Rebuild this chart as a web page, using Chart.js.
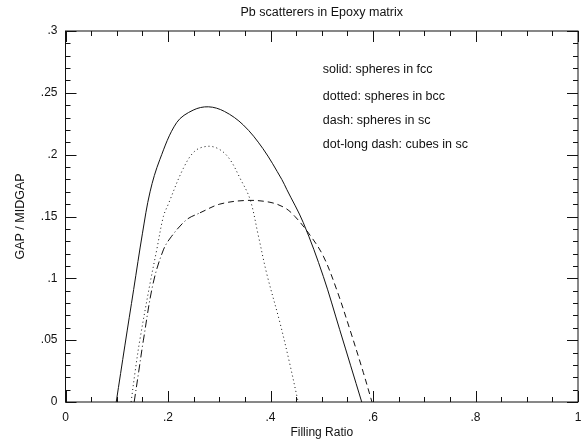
<!DOCTYPE html>
<html lang="en">
<head>
    <meta charset="UTF-8">
    <title>Pb scatterers in Epoxy matrix</title>
    <script src="https://cdn.jsdelivr.net/npm/chart.js"></script>
    <style>
        html, body { margin: 0; padding: 0; background: #fff; }
        #wrap { width: 586px; height: 443px; }
    </style>
</head>
<body>
    <div id="wrap"><canvas id="gapChart" width="586" height="443"></canvas></div>

    <script>
        // values
        const fccX = [0.099, 0.116, 0.133, 0.150, 0.165, 0.184, 0.217, 0.249, 0.279, 0.310, 0.347, 0.385, 0.422, 0.4316, 0.464, 0.503, 0.535, 0.578];
        const fccY = [0, 0.046, 0.091, 0.136, 0.170, 0.196, 0.226, 0.236, 0.2387, 0.235, 0.224, 0.205, 0.180, 0.172, 0.145, 0.1016, 0.0585, 0];

        const bccX = [0.128, 0.136, 0.145, 0.165, 0.178, 0.191, 0.2006, 0.230, 0.2527, 0.2787, 0.3015, 0.321, 0.3405, 0.360, 0.376, 0.3925, 0.4185, 0.437, 0.454];
        const bccY = [0, 0.025, 0.050, 0.096, 0.123, 0.150, 0.160, 0.189, 0.203, 0.2068, 0.204, 0.196, 0.181, 0.164, 0.135, 0.104, 0.064, 0.032, 0];

        const scX = [0.2625, 0.301, 0.3535, 0.399, 0.428, 0.4478, 0.477, 0.503, 0.529, 0.555, 0.581, 0.598];
        const scY = [0.153, 0.160, 0.163, 0.1615, 0.157, 0.150, 0.135, 0.118, 0.091, 0.0585, 0.024, 0];

        const cubeX = [0.134, 0.143, 0.152, 0.171, 0.191, 0.207, 0.2365, 0.2625];
        const cubeY = [0, 0.025, 0.050, 0.096, 0.123, 0.134, 0.1475, 0.153];

        const legendLines = [
            'solid: spheres in fcc',
            'dotted: spheres in bcc',
            'dash: spheres in sc',
            'dot-long dash: cubes in sc'
        ];

        const xMin = 0, xMax = 1, xStep = 0.2, xMinor = 0.05;
        const yMin = 0, yMax = 0.3, yStep = 0.05, yMinor = 0.01;

        const ink = '#111';
        const fontFamily = '"Liberation Sans", Arial, Helvetica, sans-serif';

        function toPoints(xs, ys) {
            return xs.map((x, i) => ({ x: x, y: ys[i] }));
        }

        function fmt(v) {
            // .25 style, no leading zero
            let s = (Math.round(v * 1000) / 1000).toString();
            return s.replace(/^0\./, '.');
        }

        function line(label, xs, ys, dash) {
            return {
                label: label,
                data: toPoints(xs, ys),
                borderColor: ink,
                borderWidth: 1,
                borderDash: dash,
                pointRadius: 0,
                fill: false,
                tension: 0.35
            };
        }

        // frame, inward ticks, title and the text legend
        const decorations = {
            id: 'decorations',
            afterDraw(chart) {
                const ctx = chart.ctx;
                const a = chart.chartArea;
                const xs = chart.scales.x;
                const ys = chart.scales.y;
                ctx.save();
                ctx.strokeStyle = ink;
                ctx.lineWidth = 1;
                ctx.strokeRect(a.left, a.top, a.right - a.left, a.bottom - a.top);

                ctx.beginPath();
                const nx = Math.round((xMax - xMin) / xMinor);
                for (let i = 0; i <= nx; i++) {
                    const px = Math.round(xs.getPixelForValue(xMin + i * xMinor)) + 0.5;
                    const len = (i % 4 === 0) ? 11 : 5;
                    ctx.moveTo(px, a.bottom); ctx.lineTo(px, a.bottom - len);
                    ctx.moveTo(px, a.top); ctx.lineTo(px, a.top + len);
                }
                const ny = Math.round((yMax - yMin) / yMinor);
                for (let i = 0; i <= ny; i++) {
                    const py = Math.round(ys.getPixelForValue(yMin + i * yMinor)) + 0.5;
                    const len = (i % 5 === 0) ? 11 : 5;
                    ctx.moveTo(a.left, py); ctx.lineTo(a.left + len, py);
                    ctx.moveTo(a.right, py); ctx.lineTo(a.right - len, py);
                }
                ctx.stroke();

                ctx.fillStyle = ink;
                ctx.textBaseline = 'middle';
                ctx.textAlign = 'center';
                ctx.font = '12.5px ' + fontFamily;
                ctx.fillText('Pb scatterers in Epoxy matrix', (a.left + a.right) / 2, 13);

                ctx.textAlign = 'left';
                ctx.font = '12.5px ' + fontFamily;
                const lx = xs.getPixelForValue(0.502);
                const rows = [70, 97, 121, 145];
                legendLines.forEach((t, i) => ctx.fillText(t, lx, rows[i]));
                ctx.restore();
            }
        };

        const ctx = document.getElementById('gapChart').getContext('2d');

        const chart = new Chart(ctx, {
            type: 'line',
            data: {
                datasets: [
                    line('spheres in fcc', fccX, fccY, []),
                    line('spheres in bcc', bccX, bccY, [1, 3]),
                    line('spheres in sc', scX, scY, [6, 4]),
                    line('cubes in sc', cubeX, cubeY, [8, 3, 1, 3])
                ]
            },
            options: {
                responsive: false,
                animation: false,
                layout: { padding: { top: 31, right: 8 } },
                plugins: {
                    legend: { display: false },
                    tooltip: { enabled: false }
                },
                scales: {
                    x: {
                        type: 'linear',
                        min: xMin,
                        max: xMax,
                        grid: { display: false },
                        border: { display: false },
                        ticks: {
                            stepSize: xStep,
                            padding: 0,
                            color: ink,
                            font: { family: fontFamily, size: 12 },
                            callback: v => fmt(v)
                        },
                        title: {
                            display: true,
                            text: 'Filling Ratio',
                            color: ink,
                            font: { family: fontFamily, size: 12 },
                            padding: { top: 0, bottom: 3 }
                        },
                        afterFit: s => { s.height = 41; }
                    },
                    y: {
                        type: 'linear',
                        min: yMin,
                        max: yMax,
                        grid: { display: false },
                        border: { display: false },
                        ticks: {
                            stepSize: yStep,
                            padding: 0,
                            color: ink,
                            font: { family: fontFamily, size: 12 },
                            callback: v => fmt(v)
                        },
                        title: {
                            display: true,
                            text: 'GAP / MIDGAP',
                            color: ink,
                            font: { family: fontFamily, size: 12.5 },
                            padding: { top: 13, bottom: 0 }
                        },
                        afterFit: s => { s.width = 65.5; }
                    }
                }
            },
            plugins: [decorations]
        });
    </script>
</body>
</html>
